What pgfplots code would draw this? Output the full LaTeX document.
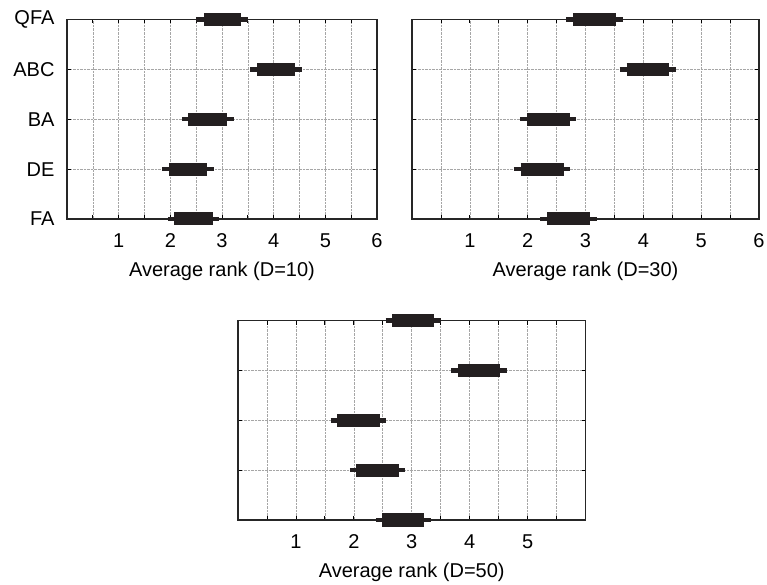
\documentclass[border=0pt]{standalone}
\usepackage{fontspec}
\setmainfont{Liberation Sans}
\usepackage{pgfplots}
\pgfplotsset{compat=1.18}
\definecolor{barc}{RGB}{35,31,32}
\pgfplotsset{
  rankax/.style={
    anchor=south west, scale only axis,
    xmin=0, xmax=6, ymin=1, ymax=5,
    xtick={0,0.5,...,6}, ytick={1,2,3,4,5},
    tick align=inside, major tick length=4bp,
    tick style={black, line width=0.8bp},
    grid=major, major grid style={gray!70, densely dotted, line width=0.6bp},
    axis line style={line width=1.2bp, black!85},
    clip=false,
    /pgf/number format/assume math mode=true,
    xticklabel style={yshift=-11bp},
    xlabel style={yshift=-7bp},
    yticklabel style={xshift=-9bp},
  },
  whisk/.style={barc, line width=4.5bp, forget plot},
  box/.style={barc, line width=13bp, forget plot},
}
\begin{document}
\begin{tikzpicture}[font=\fontsize{20bp}{24bp}\selectfont]
\useasboundingbox (0,0) rectangle (767bp,585bp);
% D=10
\begin{axis}[rankax, at={(67bp,366bp)}, width=310bp, height=199.5bp,
  xticklabels={,,1,,2,,3,,4,,5,,6},
  yticklabels={FA,DE,BA,ABC,QFA},
  xlabel={Average rank (D=10)}]
\addplot[whisk] coordinates {(2.50,5) (3.50,5)};
\addplot[box]   coordinates {(2.65,5) (3.37,5)};
\addplot[whisk] coordinates {(3.55,4) (4.55,4)};
\addplot[box]   coordinates {(3.68,4) (4.42,4)};
\addplot[whisk] coordinates {(2.23,3) (3.23,3)};
\addplot[box]   coordinates {(2.35,3) (3.10,3)};
\addplot[whisk] coordinates {(1.84,2) (2.84,2)};
\addplot[box]   coordinates {(1.97,2) (2.70,2)};
\addplot[whisk] coordinates {(1.95,1) (2.95,1)};
\addplot[box]   coordinates {(2.08,1) (2.82,1)};
\end{axis}
% D=30
\begin{axis}[rankax, at={(412bp,366bp)}, width=347bp, height=199.5bp,
  xticklabels={,,1,,2,,3,,4,,5,,6},
  yticklabels={},
  xlabel={Average rank (D=30)}]
\addplot[whisk] coordinates {(2.67,5) (3.64,5)};
\addplot[box]   coordinates {(2.78,5) (3.52,5)};
\addplot[whisk] coordinates {(3.59,4) (4.57,4)};
\addplot[box]   coordinates {(3.71,4) (4.44,4)};
\addplot[whisk] coordinates {(1.87,3) (2.84,3)};
\addplot[box]   coordinates {(1.99,3) (2.73,3)};
\addplot[whisk] coordinates {(1.76,2) (2.74,2)};
\addplot[box]   coordinates {(1.88,2) (2.62,2)};
\addplot[whisk] coordinates {(2.22,1) (3.20,1)};
\addplot[box]   coordinates {(2.34,1) (3.07,1)};
\end{axis}
% D=50
\begin{axis}[rankax, at={(238bp,65bp)}, width=347.5bp, height=199.5bp,
  xticklabels={,,1,,2,,3,,4,,5,,},
  yticklabels={},
  xlabel={Average rank (D=50)}]
\addplot[whisk] coordinates {(2.55,5) (3.51,5)};
\addplot[box]   coordinates {(2.66,5) (3.39,5)};
\addplot[whisk] coordinates {(3.68,4) (4.64,4)};
\addplot[box]   coordinates {(3.80,4) (4.53,4)};
\addplot[whisk] coordinates {(1.60,3) (2.56,3)};
\addplot[box]   coordinates {(1.71,3) (2.45,3)};
\addplot[whisk] coordinates {(1.93,2) (2.89,2)};
\addplot[box]   coordinates {(2.04,2) (2.78,2)};
\addplot[whisk] coordinates {(2.38,1) (3.34,1)};
\addplot[box]   coordinates {(2.49,1) (3.22,1)};
\end{axis}
\end{tikzpicture}
\end{document}
